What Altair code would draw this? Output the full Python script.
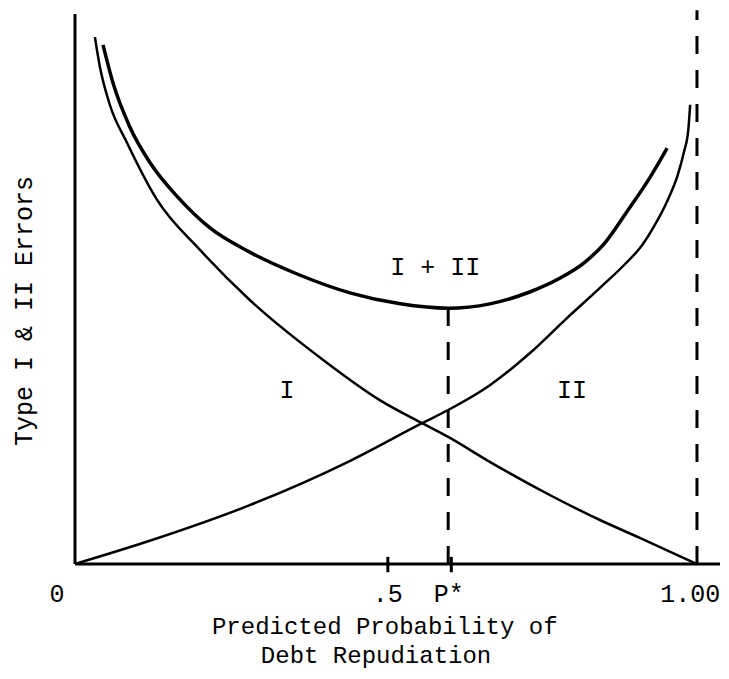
import altair as alt
import pandas as pd

# Curve I (Type I errors) - outer curve on the left, falls to 1.00
c1_x = [0.032, 0.040, 0.056, 0.084, 0.132, 0.201, 0.281, 0.399, 0.490, 0.558, 0.600, 0.662, 0.764, 0.844, 0.915, 1.000]
c1_y = [0.958, 0.904, 0.835, 0.765, 0.662, 0.571, 0.480, 0.371, 0.298, 0.256, 0.231, 0.189, 0.125, 0.080, 0.044, 0.000]

# Curve II (Type II errors) - rises from origin, outer curve on the right
c2_x = [0.000, 0.125, 0.281, 0.445, 0.558, 0.600, 0.667, 0.732, 0.788, 0.844, 0.884, 0.912, 0.932, 0.953, 0.969, 0.979, 0.986, 0.989]
c2_y = [0.000, 0.044, 0.107, 0.189, 0.256, 0.280, 0.325, 0.384, 0.444, 0.502, 0.545, 0.580, 0.616, 0.662, 0.707, 0.749, 0.789, 0.835]

# Curve I + II (U shape, inner curve)
c3_x = [0.045, 0.061, 0.088, 0.121, 0.166, 0.217, 0.281, 0.362, 0.442, 0.523, 0.600, 0.667, 0.732, 0.780, 0.820, 0.852, 0.887, 0.924, 0.952]
c3_y = [0.944, 0.875, 0.795, 0.729, 0.666, 0.611, 0.567, 0.525, 0.493, 0.473, 0.465, 0.473, 0.495, 0.520, 0.549, 0.584, 0.640, 0.702, 0.756]

p_star = 0.600
p_star_min = 0.465
x_max = 1.037

tick_labels = ["0", ".5", "P*", "1.00"]
tick_label_x = [-0.029, 0.503, 0.601, 0.989]
tick_label_y = -0.069

tick_marks = [0.503, 0.605]

curve_labels = ["I + II", "I", "II"]
curve_label_x = [0.579, 0.341, 0.799]
curve_label_y = [0.540, 0.316, 0.316]

xtitle = ["Predicted Probability of", "Debt Repudiation"]
xtitle_x = [0.498, 0.484]
xtitle_y = [-0.127, -0.180]
ytitle = "Type I & II Errors"

FONT = "Liberation Mono"
FS = 25
xs = alt.Scale(domain=[0, x_max], nice=False, zero=False)
ys = alt.Scale(domain=[0, 1], nice=False, zero=False)
X = lambda f: alt.X(f, scale=xs, axis=None)
Y = lambda f: alt.Y(f, scale=ys, axis=None)


def curve(xv, yv, width):
    df = pd.DataFrame({"x": xv, "y": yv, "i": range(len(xv))})
    return alt.Chart(df).mark_line(color="black", strokeWidth=width, interpolate="monotone").encode(
        x=X("x:Q"), y=Y("y:Q"), order="i:Q",
    )


axes_df = pd.DataFrame({"x": [0, 0], "x2": [0, x_max], "y": [0, 0], "y2": [1.0, 0]})
axes = alt.Chart(axes_df).mark_rule(color="black", strokeWidth=3).encode(
    x=X("x:Q"), x2="x2:Q", y=Y("y:Q"), y2="y2:Q",
)

ticks_df = pd.DataFrame({"x": tick_marks, "y": [-0.015] * 2, "y2": [0.013] * 2})
ticks = alt.Chart(ticks_df).mark_rule(color="black", strokeWidth=3).encode(
    x=X("x:Q"), y=Y("y:Q"), y2="y2:Q",
)

dash_df = pd.DataFrame({"x": [p_star, 1.0], "y": [0, 0], "y2": [p_star_min, 1.007]})
dashes = alt.Chart(dash_df).mark_rule(color="black", strokeWidth=3, strokeDash=[18, 16]).encode(
    x=X("x:Q"), y=Y("y:Q"), y2="y2:Q",
)

tl_df = pd.DataFrame({"t": tick_labels, "x": tick_label_x, "y": [tick_label_y] * len(tick_labels)})
tl = alt.Chart(tl_df).mark_text(font=FONT, fontSize=FS, color="black", baseline="alphabetic", align="center").encode(
    x=X("x:Q"), y=Y("y:Q"), text="t:N"
)

cl_df = pd.DataFrame({"t": curve_labels, "x": curve_label_x, "y": curve_label_y})
cl = alt.Chart(cl_df).mark_text(font=FONT, fontSize=FS, color="black", baseline="middle", align="center").encode(
    x=X("x:Q"), y=Y("y:Q"), text="t:N"
)

xt_df = pd.DataFrame({"t": xtitle, "x": xtitle_x, "y": xtitle_y})
xt = alt.Chart(xt_df).mark_text(font=FONT, fontSize=24, color="black", baseline="alphabetic", align="center").encode(
    x=X("x:Q"), y=Y("y:Q"), text="t:N"
)

yt_df = pd.DataFrame({"t": [ytitle], "x": [-0.082], "y": [0.46]})
yt = alt.Chart(yt_df).mark_text(font=FONT, fontSize=FS, color="black", baseline="middle", align="center", angle=270).encode(
    x=X("x:Q"), y=Y("y:Q"), text="t:N"
)

chart = alt.layer(
    axes, ticks, dashes,
    curve(c1_x, c1_y, 2.5), curve(c2_x, c2_y, 2.5), curve(c3_x, c3_y, 3.5),
    tl, cl, xt, yt,
).properties(
    width=645, height=550,
    autosize=alt.AutoSizeParams(type="none"),
    padding={"left": 67, "top": 6, "right": 0, "bottom": 106},
).configure_view(stroke=None)

chart.save("out.html", embed_options={"renderer": "svg", "actions": False})
